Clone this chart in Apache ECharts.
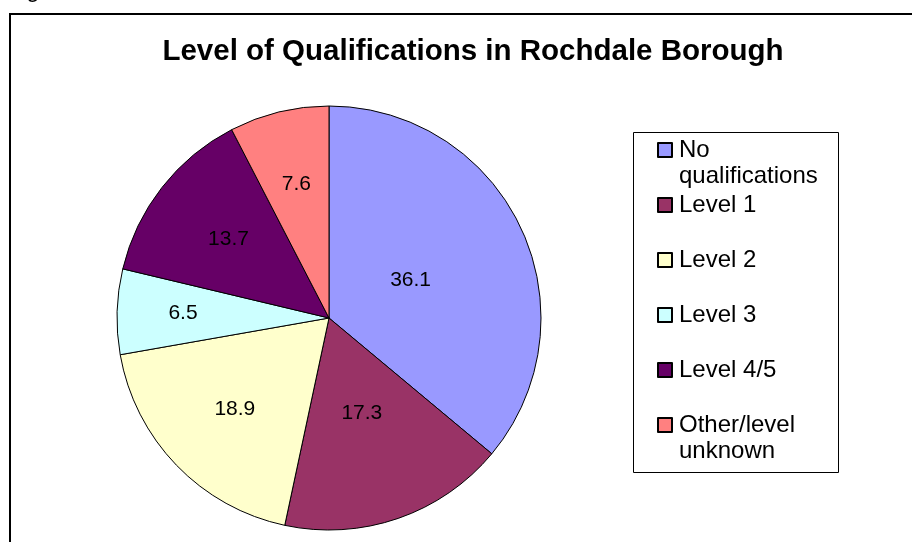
<!DOCTYPE html>
<html>
<head>
<meta charset="utf-8">
<title>Level of Qualifications in Rochdale Borough</title>
<script src="https://cdn.jsdelivr.net/npm/echarts@6/dist/echarts.min.js"></script>
<style>
html, body { margin: 0; padding: 0; background: #fff; }
#chart { width: 912px; height: 542px; }
</style>
</head>
<body>
<div id="chart"></div>
<script>
// data
const categories = ['No qualifications', 'Level 1', 'Level 2', 'Level 3', 'Level 4/5', 'Other/level unknown'];
const values = [36.1, 17.3, 18.9, 6.5, 13.7, 7.6];
const legendLabels = ['No\nqualifications', 'Level 1', 'Level 2', 'Level 3', 'Level 4/5', 'Other/level\nunknown'];
const colors = ['#9999FF', '#993366', '#FFFFCC', '#CCFFFF', '#660066', '#FF8080'];

// styling
const FONT = "'Liberation Sans', Arial, sans-serif";
const PIE_CX = 329, PIE_CY = 318, PIE_R = 212;
// how far out (fraction of radius) each value label sits, like the original's best-fit
const labelDist = [0.425, 0.474, 0.617, 0.689, 0.602, 0.651];

const chart = echarts.init(document.getElementById('chart'));

chart.setOption({
    animation: false,
    backgroundColor: '#fff',
    color: colors,
    title: {
        text: 'Level of Qualifications in Rochdale Borough',
        left: 468,
        top: 32,
        textAlign: 'center',
        textStyle: { fontFamily: FONT, fontSize: 29.5, fontWeight: 'bold', color: '#000' }
    },
    legend: {
        orient: 'vertical',
        left: 657,
        top: 111,
        padding: 0,
        itemWidth: 14,
        itemHeight: 14,
        itemGap: -23,
        icon: 'rect',
        selectedMode: false,
        data: categories,
        // three lines per item so the first text line sits level with the square
        formatter: function (name) {
            const txt = legendLabels[categories.indexOf(name)];
            return '\n' + txt + (txt.indexOf('\n') < 0 ? '\n' : '');
        },
        textStyle: { fontFamily: FONT, fontSize: 24, lineHeight: 26, color: '#000', padding: [0, 0, 0, 2] }
    },
    graphic: [
        {
            type: 'rect',
            shape: { x: 10, y: 14, width: 1000, height: 700 },
            style: { fill: null, stroke: '#000', lineWidth: 2 },
            silent: true
        },
        {
            type: 'rect',
            shape: { x: 633.5, y: 132.5, width: 205, height: 340 },
            style: { fill: null, stroke: '#000', lineWidth: 1 },
            silent: true
        },
        {
            // tail of a letter from the text above the frame, cut off by the page top
            type: 'text',
            x: 33, y: 2,
            style: { text: 'g', fontFamily: FONT, fontSize: 24, fill: '#000', align: 'center', verticalAlign: 'bottom' },
            silent: true
        }
    ],
    series: [
        {
            type: 'pie',
            center: [PIE_CX, PIE_CY],
            radius: PIE_R,
            startAngle: 90,
            clockwise: true,
            avoidLabelOverlap: false,
            emphasis: { disabled: true },
            itemStyle: { borderColor: '#000', borderWidth: 1 },
            label: {
                show: true,
                position: 'inside',
                color: '#000',
                fontFamily: FONT,
                fontSize: 21,
                formatter: function (p) { return p.value.toFixed(1); }
            },
            labelLine: { show: false },
            labelLayout: function (p) {
                const r = p.labelRect;
                const lx = r.x + r.width / 2, ly = r.y + r.height / 2;
                const vx = lx - PIE_CX, vy = ly - PIE_CY;
                const len = Math.sqrt(vx * vx + vy * vy) || 1;
                const k = labelDist[p.dataIndex] * PIE_R / len;
                return { dx: vx * k - vx, dy: vy * k - vy };
            },
            data: categories.map(function (name, i) {
                return { name: name, value: values[i] };
            })
        }
    ]
});
</script>
</body>
</html>
